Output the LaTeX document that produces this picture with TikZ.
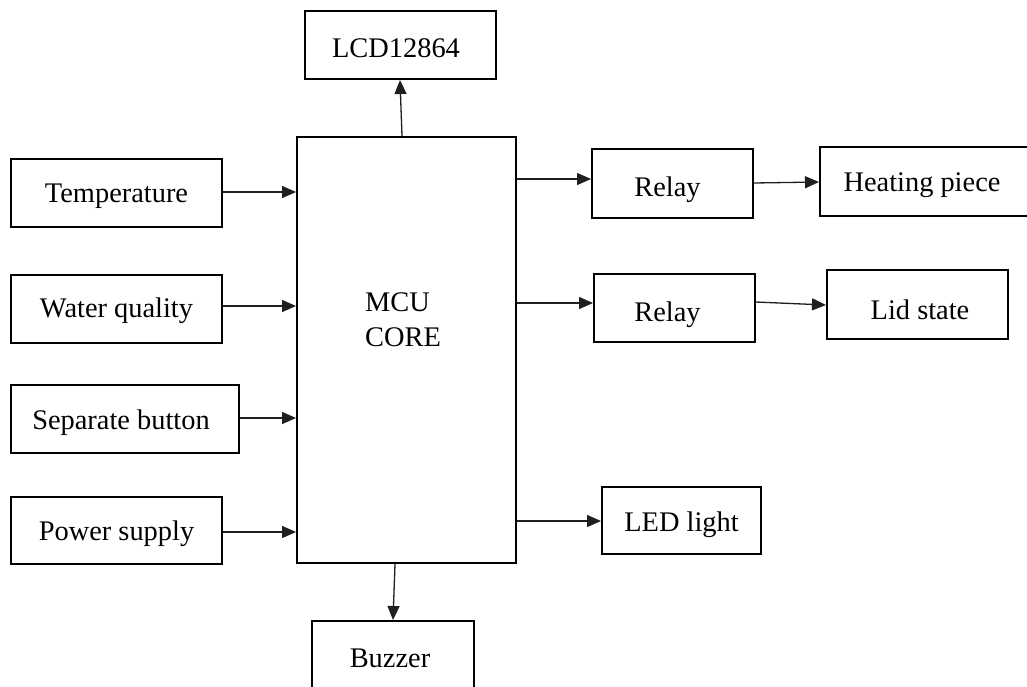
\documentclass[tikz,border=0pt]{standalone}
\usepackage{fontspec}
\setmainfont{Liberation Serif}
\usetikzlibrary{arrows.meta}
\begin{document}
\begin{tikzpicture}[x=1pt,y=-1pt,
  blk/.style={draw=black,line width=2pt,inner sep=0pt,text depth=0pt,font=\fontsize{28.4}{34}\selectfont},
  arr/.style={draw=black!88,line width=1.3pt,-{Triangle[length=14pt,width=12pt]}}]
\useasboundingbox (0,0) rectangle (1027,686);
\fill[white] (0,0) rectangle (1027,686);
\clip (0,0) rectangle (1027,686);
% nodes
\node[blk,text height=24pt,minimum width=191pt,minimum height=68pt] (lcd) at (400.5,45) {\hspace*{-9pt}LCD12864};
\node[blk,minimum width=219pt,minimum height=426pt] (mcu) at (406.5,350) {};
\node[font=\fontsize{28.4}{35}\selectfont,align=left,inner sep=0pt,anchor=west] (mcutext) at (365,320) {MCU\\CORE};
\node[blk,text height=18pt,minimum width=211pt,minimum height=68pt] (temp) at (116.5,193) {Temperature};
\node[blk,text height=16pt,minimum width=211pt,minimum height=68pt] (water) at (116.5,309) {Water quality};
\node[blk,text height=20pt,minimum width=228pt,minimum height=68pt] (sep) at (125,419) {\hspace*{-8pt}Separate button};
\node[blk,text height=19pt,minimum width=211pt,minimum height=67pt] (power) at (116.5,530.5) {Power supply};
\node[blk,text height=25pt,minimum width=161pt,minimum height=69pt] (r1) at (672.5,183.5) {\hspace*{-10pt}Relay};
\node[blk,text height=19pt,minimum width=212pt,minimum height=69pt] (heat) at (926,181.5) {\hspace*{-8pt}Heating piece};
\node[blk,text height=26pt,minimum width=161pt,minimum height=68pt] (r2) at (674.5,308) {\hspace*{-14pt}Relay};
\node[blk,text height=29pt,minimum width=181pt,minimum height=69pt] (lid) at (917.5,304.5) {\hspace*{5pt}Lid state};
\node[blk,text height=21pt,minimum width=159pt,minimum height=67pt] (led) at (681.5,520.5) {LED light};
\node[blk,text height=19pt,minimum width=162pt,minimum height=73pt] (buz) at (393,657.5) {\hspace*{-6pt}Buzzer};
% connectors
\draw[arr] (mcu.north -| 402,0) -- (lcd.south -| 400,0);
\draw[arr] (temp.east |- 0,192) -- (mcu.west |- 0,192);
\draw[arr] (water.east |- 0,306) -- (mcu.west |- 0,306);
\draw[arr] (sep.east |- 0,418) -- (mcu.west |- 0,418);
\draw[arr] (power.east |- 0,532) -- (mcu.west |- 0,532);
\draw[arr] (mcu.east |- 0,179) -- (r1.west |- 0,179);
\draw[arr] (r1.east |- 0,183) -- (heat.west |- 0,182);
\draw[arr] (mcu.east |- 0,303) -- (r2.west |- 0,303);
\draw[arr] (r2.east |- 0,302) -- (lid.west |- 0,305);
\draw[arr] (mcu.east |- 0,521) -- (led.west |- 0,521);
\draw[arr] (mcu.south -| 395,0) -- (buz.north -| 393,0);
\end{tikzpicture}
\end{document}
